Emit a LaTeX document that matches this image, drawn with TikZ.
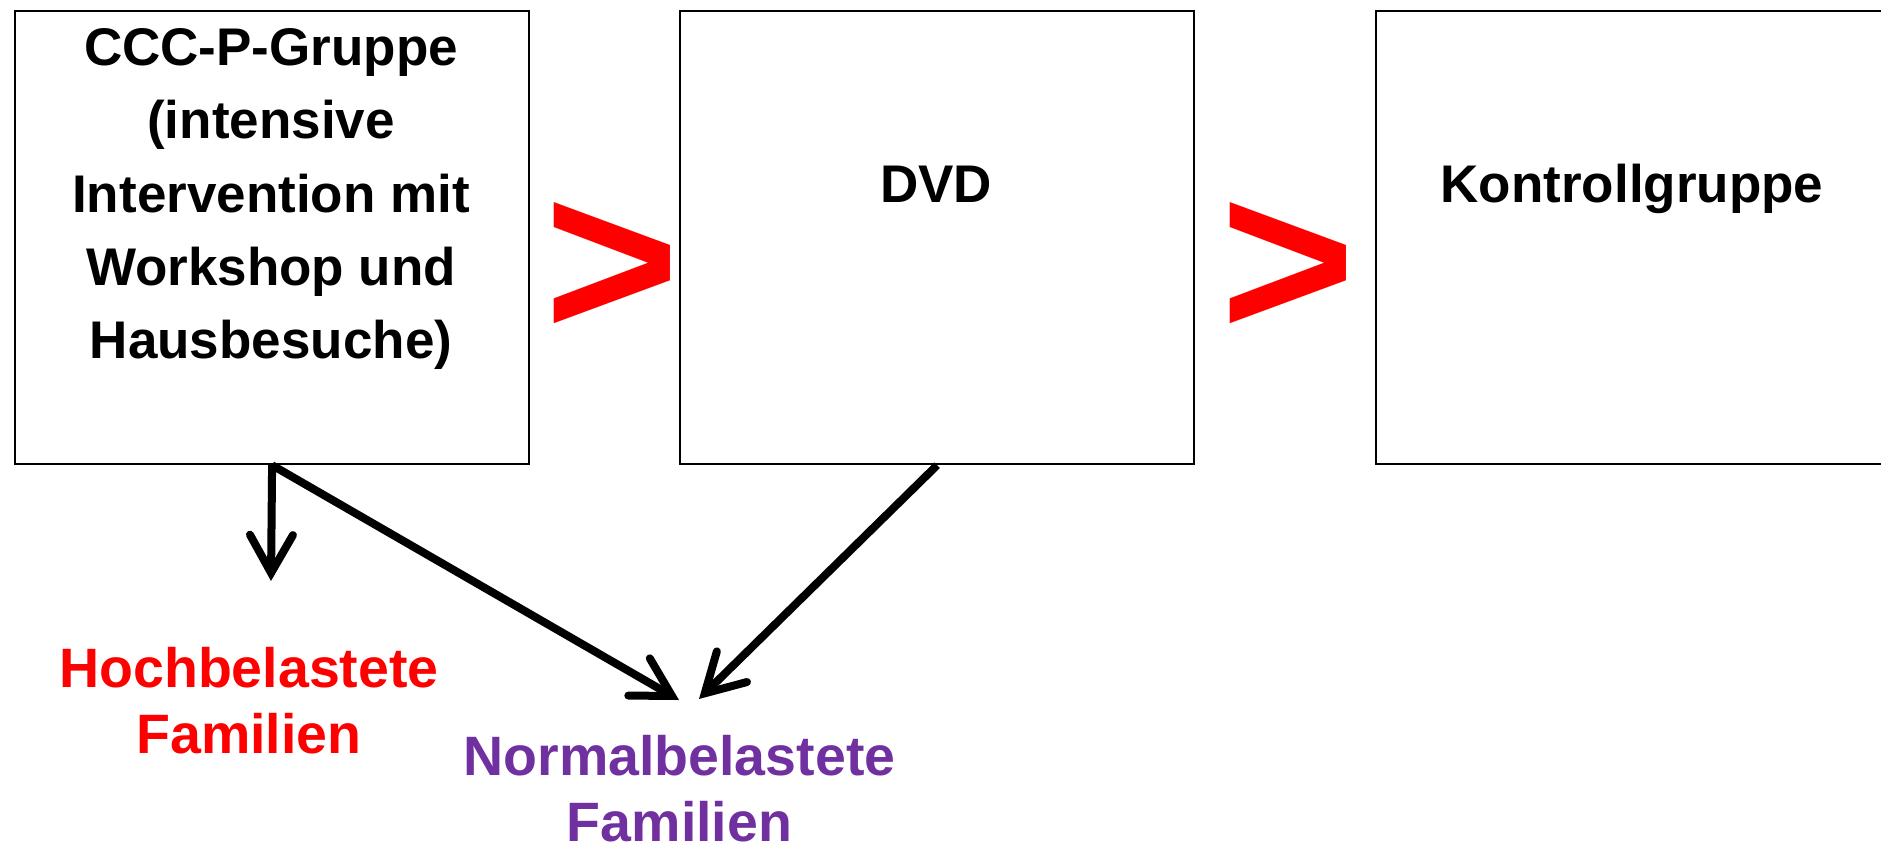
\documentclass[tikz,border=0pt]{standalone}
\usepackage{fontspec}
\setmainfont{Liberation Sans}
\usetikzlibrary{arrows.meta}
\definecolor{labelred}{HTML}{FF0000}
\definecolor{labelpurple}{HTML}{7030A0}

\begin{document}
\begin{tikzpicture}[x=1pt,y=-1pt,
  groupbox/.style={draw=black, line width=2.2pt, minimum width=514pt,
    minimum height=453pt, inner sep=0pt, anchor=north west},
  boxtext/.style={font=\fontsize{53}{73.3}\selectfont\bfseries,
    align=center, inner sep=0pt},
  labeltext/.style={font=\fontsize{55.5}{66}\selectfont\bfseries,
    align=center, inner sep=0pt},
  gtsign/.style={text=labelred, font=\fontsize{225}{225}\selectfont\bfseries,
    inner sep=0pt, xscale=1.03, transform shape},
  flow/.style={draw=black, line width=8pt,
    -{Straight Barb[length=38pt, width=43pt, line cap=round, line join=miter]}}
]
\clip (0,0) rectangle (1881,845);
\fill[white] (0,0) rectangle (1881,845);

% the three study groups
\node[groupbox] (ccc) at (14,10) {};
\node[groupbox] (dvd) at (679,10) {};
\node[groupbox] (kontrolle) at (1375,10) {};

\node[boxtext, anchor=north] (ccctext) at (271,28.3)
  {CCC-P-Gruppe\\(intensive\\Intervention mit\\Workshop und\\Hausbesuche)};
\node[boxtext, anchor=base] (dvdtext) at (936,203) {DVD};
\node[boxtext, anchor=base] (kontrolletext) at (1632,203) {Kontrollgruppe};

% ordering signs between the groups
\node[gtsign] (gtA) at (612.5,270.1) {>};
\node[gtsign] (gtB) at (1288.1,270.1) {>};

% family labels
\node[labeltext, text=labelred, anchor=north] (hoch) at (249,647)
  {Hochbelastete\\Familien};
\node[labeltext, text=labelpurple, anchor=north] (normal) at (679.5,735)
  {Normalbelastete\\Familien};

% arrow end points above the labels
\coordinate (hochtip) at (271,581);
\coordinate (normtipA) at (679,700);
\coordinate (normtipB) at (699,699);

\draw[flow] (ccc.south) -- (hochtip);
\draw[flow] (ccc.south) -- (normtipA);
\draw[flow] (dvd.south) -- (normtipB);
\end{tikzpicture}
\end{document}
